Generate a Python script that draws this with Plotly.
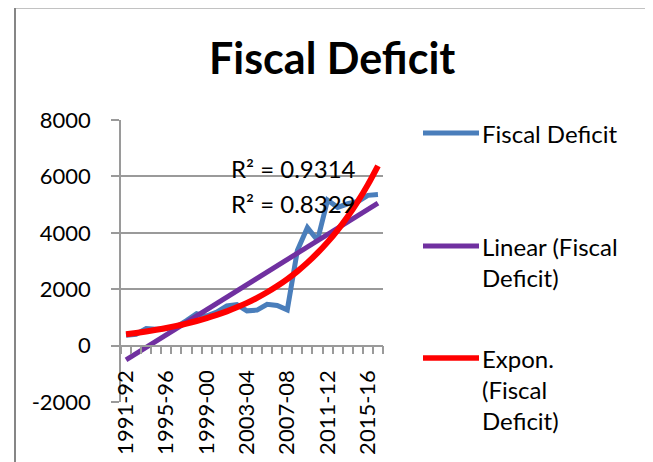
import numpy as np
import plotly.graph_objects as go

# ---------------- data ----------------
years = ["1991-92", "1992-93", "1993-94", "1994-95", "1995-96", "1996-97", "1997-98",
         "1998-99", "1999-00", "2000-01", "2001-02", "2002-03", "2003-04", "2004-05",
         "2005-06", "2006-07", "2007-08", "2008-09", "2009-10", "2010-11", "2011-12",
         "2012-13", "2013-14", "2014-15", "2015-16", "2016-17"]
fiscal_deficit = [363, 402, 603, 577, 602, 667, 889, 1133, 1047, 1188, 1410, 1451, 1233,
                  1258, 1464, 1426, 1269, 3370, 4185, 3736, 5160, 4902, 5029, 5108, 5328, 5356]
label_years = ["1991-92", "1995-96", "1999-00", "2003-04", "2007-08", "2011-12", "2015-16"]
y_ticks = [-2000, 0, 2000, 4000, 6000, 8000]
y_tick_labels = ["-2000", "0", "2000", "4000", "6000", "8000"]
r2_texts = ["R\u00b2 = 0.9314", "R\u00b2 = 0.8329"]
legend_names = ["Fiscal Deficit", "Linear (Fiscal<br>Deficit)", "Expon.<br>(Fiscal<br>Deficit)"]

# ---------------- trendlines (least squares, as Excel does) ----------------
idx = np.arange(len(years))
vals = np.array(fiscal_deficit, dtype=float)
lin_coef = np.polyfit(idx, vals, 1)
linear_fit = np.polyval(lin_coef, idx)
exp_coef = np.polyfit(idx, np.log(vals), 1)
expon_fit = np.exp(np.polyval(exp_coef, idx))

# ---------------- layout geometry ----------------
# the page body has an 8px margin, so the figure is drawn 8px in from the corner
OFF = 8
W, H = 653 - OFF, 462 - OFF
ML, MR, MT, MB = 113, 270, 112, 60
PW, PH = W - ML - MR, H - MT - MB

def xp(px):
    return (px - OFF - ML) / PW

def yp(py):
    return (H - MB - (py - OFF)) / PH

FONT = "Lato, 'Open Sans', sans-serif"
GRID = "#9a9a9a"
BLUE = "#4A7EBB"
PURPLE = "#7030A0"
RED = "#FF0000"

fig = go.Figure()
fig.add_trace(go.Scatter(x=idx, y=fiscal_deficit, mode="lines",
                         line=dict(color=BLUE, width=5), name="Fiscal Deficit",
                         showlegend=False))
fig.add_trace(go.Scatter(x=idx, y=linear_fit, mode="lines",
                         line=dict(color=PURPLE, width=5), name="Linear (Fiscal Deficit)",
                         showlegend=False))
fig.add_trace(go.Scatter(x=idx, y=expon_fit, mode="lines", line_shape="spline",
                         line=dict(color=RED, width=6), name="Expon. (Fiscal Deficit)",
                         showlegend=False))

tick_pos = [years.index(y) for y in label_years]

fig.update_layout(
    width=W, height=H,
    margin=dict(l=ML, r=MR, t=MT, b=MB, autoexpand=False),
    paper_bgcolor="white", plot_bgcolor="white",
    font=dict(family=FONT, size=22, color="black"),
    showlegend=False,
    xaxis=dict(
        range=[-0.5, len(years) - 0.5],
        anchor="free", position=(0 - y_ticks[0]) / (y_ticks[-1] - y_ticks[0]),
        tickmode="array", tickvals=tick_pos, ticktext=label_years,
        tickangle=-90, ticks="outside", ticklen=8, tickcolor="rgba(0,0,0,0)",
        ticklabelstandoff=7,
        tickfont=dict(family=FONT, size=22, color="black"),
        showline=True, linecolor=GRID, linewidth=1.5,
        showgrid=False, zeroline=False,
        minor=dict(tickmode="linear", tick0=-0.5, dtick=1, ticks="outside",
                   ticklen=8, tickcolor=GRID, tickwidth=1.5, showgrid=False),
    ),
    yaxis=dict(
        range=[y_ticks[0], y_ticks[-1]],
        tickmode="array", tickvals=y_ticks, ticktext=y_tick_labels,
        ticks="outside", ticklen=8, tickcolor=GRID, tickwidth=1.5,
        ticklabelstandoff=16,
        tickfont=dict(family=FONT, size=22, color="black"),
        showline=True, linecolor=GRID, linewidth=1.5,
        showgrid=True, gridcolor=GRID, gridwidth=1.5,
        zeroline=False,
    ),
)

shapes = []
# chart border
shapes.append(dict(type="rect", xref="paper", yref="paper",
                   x0=xp(15), x1=xp(646), y0=yp(480), y1=yp(7.5),
                   line=dict(color="#868686", width=2), layer="below"))
# legend symbols
for py, col, w in [(133, BLUE, 5), (246, PURPLE, 5), (358, RED, 5.5)]:
    shapes.append(dict(type="line", xref="paper", yref="paper",
                       x0=xp(423), x1=xp(479), y0=yp(py), y1=yp(py),
                       line=dict(color=col, width=w)))
fig.update_layout(shapes=shapes)

annotations = []
annotations.append(dict(text="<b>Fiscal Deficit</b>", xref="paper", yref="paper",
                        x=xp(332), y=yp(57), xanchor="center", yanchor="middle",
                        showarrow=False, font=dict(family=FONT, size=43, color="black")))
for txt, py in zip(r2_texts, [168, 203]):
    annotations.append(dict(text=txt, xref="paper", yref="paper",
                            x=xp(229), y=yp(py), xanchor="left", yanchor="middle",
                            showarrow=False, font=dict(family=FONT, size=24, color="black")))
for txt, py in zip(legend_names, [133, 262, 389.5]):
    annotations.append(dict(text=txt, xref="paper", yref="paper", align="left",
                            x=xp(480), y=yp(py), xanchor="left", yanchor="middle",
                            showarrow=False, font=dict(family=FONT, size=24, color="black")))
fig.update_layout(annotations=annotations)

fig.write_html("out.html")
